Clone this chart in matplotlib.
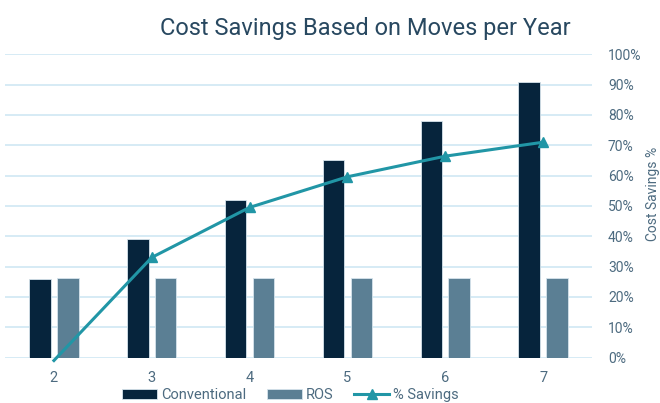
import numpy as np
import matplotlib.pyplot as plt
from matplotlib.ticker import PercentFormatter

# ── Data ───────────────────────────────────────────────────────────────
moves = ['2', '3', '4', '5', '6', '7']
conventional = [26, 39, 52, 65, 78, 91]
ros = [26.2, 26.2, 26.2, 26.2, 26.2, 26.2]
savings = [-1.0, 33.0, 49.5, 59.6, 66.4, 71.0]

# ── Style ──────────────────────────────────────────────────────────────
plt.rcParams['font.family'] = ['Roboto', 'DejaVu Sans']
text_col = '#4d6b80'
grid_col = '#cfe8f4'
conv_col = '#06243c'
ros_col = '#5b7f94'
line_col = '#2196a6'

fig = plt.figure(figsize=(6.6, 4.03), dpi=100)
ax = fig.add_axes([0.0076, 0.1129, 0.8894, 0.7524])
ax2 = ax.twinx()

x = np.arange(len(moves))
w = 0.22
off = 0.142
b1 = ax.bar(x - off, conventional, w, color=conv_col, edgecolor='#d6e4ec',
            linewidth=0.6, label='Conventional', zorder=3)
b2 = ax.bar(x + off, ros, w, color=ros_col, edgecolor='#d6e4ec',
            linewidth=0.6, label='ROS', zorder=3)
ax.set_ylim(0, 100)
ax.set_xlim(-0.5, len(moves) - 0.5)
ax.set_yticks(np.arange(0, 101, 10))
ax.yaxis.grid(True, color=grid_col, linewidth=1.2, zorder=0)
ax.set_axisbelow(True)
ax.tick_params(axis='y', left=False, labelleft=False)
ax.tick_params(axis='x', bottom=False, labelsize=10.5, colors=text_col, pad=6)
ax.set_xticks(x)
ax.set_xticklabels(moves)
for s in ax.spines.values():
    s.set_visible(False)

ln, = ax2.plot(x, savings, color=line_col, linewidth=2.2, marker='^',
               markersize=7, markevery=list(range(1, len(moves))),
               label='% Savings', clip_on=False, zorder=4)
ax2.set_ylim(0, 100)
ax2.set_yticks(np.arange(0, 101, 10))
ax2.yaxis.set_major_formatter(PercentFormatter(decimals=0))
ax2.tick_params(axis='y', right=False, labelsize=10, colors=text_col, pad=8)
for s in ax2.spines.values():
    s.set_visible(False)
fig.text(0.99, 0.52, 'Cost Savings %', rotation=90, ha='center', va='center',
         color=text_col, fontsize=10)

fig.text(0.553, 0.93, 'Cost Savings Based on Moves per Year', ha='center',
         va='center', fontsize=17, color='#284860')

fig.legend(handles=[b1, b2, ln], loc='lower center', bbox_to_anchor=(0.44, -0.03),
           ncol=3, frameon=False, fontsize=10.5, labelcolor=text_col,
           handlelength=2.4, handleheight=0.7, columnspacing=1.4, handletextpad=0.3)

plt.savefig('out.png', dpi=100)
